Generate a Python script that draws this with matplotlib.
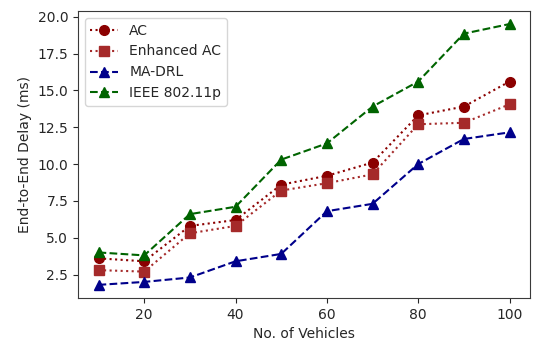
import matplotlib
matplotlib.use("Agg")
import matplotlib.pyplot as plt

vehicles = [10, 20, 30, 40, 50, 60, 70, 80, 90, 100]
ac = [3.6, 3.4, 5.8, 6.2, 8.6, 9.2, 10.1, 13.3, 13.9, 15.6]
enhanced_ac = [2.8, 2.7, 5.3, 5.8, 8.2, 8.7, 9.3, 12.7, 12.8, 14.05]
ma_drl = [1.8, 2.0, 2.3, 3.4, 3.9, 6.8, 7.3, 10.0, 11.7, 12.15]
ieee = [4.0, 3.8, 6.6, 7.1, 10.3, 11.4, 13.9, 15.6, 18.85, 19.5]

plt.rcParams.update({
    "font.family": "DejaVu Sans",
    "font.size": 10,
    "text.color": "#262626",
    "axes.labelcolor": "#262626",
    "xtick.color": "#262626",
    "ytick.color": "#262626",
    "axes.edgecolor": "#3a3a3a",
})

fig = plt.figure(figsize=(5.36, 3.44), dpi=100)
ax = fig.add_axes([0.1455, 0.134, 0.8435, 0.834])

ax.plot(vehicles, ac, linestyle=":", color="darkred", marker="o",
        markersize=7, linewidth=1.5, label="AC")
ax.plot(vehicles, enhanced_ac, linestyle=":", color="brown", marker="s",
        markersize=7, linewidth=1.5, label="Enhanced AC")
ax.plot(vehicles, ma_drl, linestyle="--", color="darkblue", marker="^",
        markersize=7, linewidth=1.5, label="MA-DRL")
ax.plot(vehicles, ieee, linestyle="--", color="darkgreen", marker="^",
        markersize=7, linewidth=1.5, label="IEEE 802.11p")

ax.set_xlabel("No. of Vehicles", fontsize=10)
ax.set_ylabel("End-to-End Delay (ms)", fontsize=10)
ax.tick_params(labelsize=10)
ax.legend(loc="upper left", fontsize=10)

fig.savefig("out.png", dpi=100)
